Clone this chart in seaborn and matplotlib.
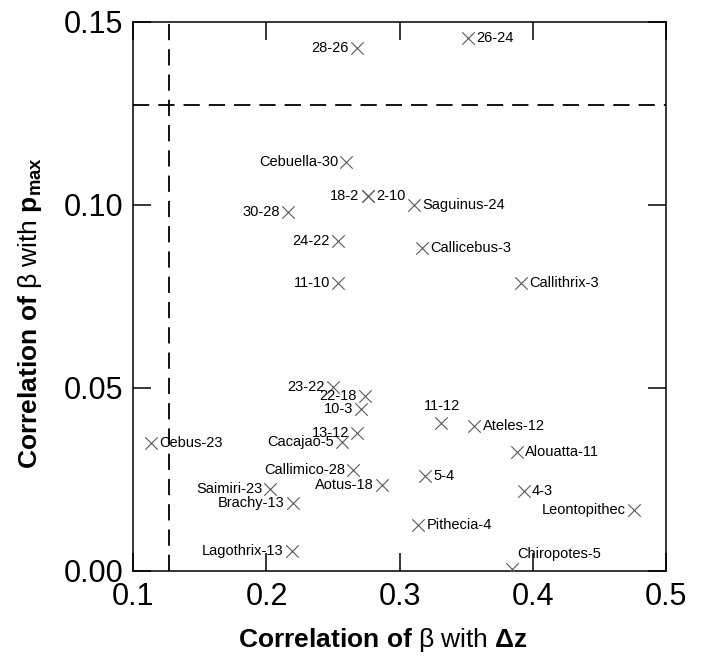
import matplotlib
matplotlib.use("Agg")
import matplotlib.pyplot as plt
import seaborn as sns
import pandas as pd

labels = ["28-26", "26-24", "Cebuella-30", "18-2", "2-10", "30-28", "Saguinus-24",
          "24-22", "Callicebus-3", "11-10", "Callithrix-3", "23-22", "22-18", "10-3",
          "11-12", "Ateles-12", "Cebus-23", "13-12", "Cacajao-5", "Alouatta-11",
          "Callimico-28", "5-4", "Saimiri-23", "Aotus-18", "4-3", "Brachy-13",
          "Leontopithec", "Pithecia-4", "Lagothrix-13", "Chiropotes-5"]
corr_dz = [0.268, 0.351, 0.260, 0.276, 0.276, 0.216, 0.311,
           0.254, 0.317, 0.254, 0.391, 0.250, 0.274, 0.271,
           0.331, 0.356, 0.113, 0.268, 0.257, 0.388,
           0.265, 0.319, 0.203, 0.287, 0.393, 0.220,
           0.476, 0.314, 0.219, 0.384]
corr_pmax = [0.1429, 0.1456, 0.1117, 0.1025, 0.1025, 0.0981, 0.1000,
             0.0902, 0.0883, 0.0787, 0.0787, 0.0503, 0.0478, 0.0443,
             0.0404, 0.0396, 0.0350, 0.0377, 0.0352, 0.0325,
             0.0276, 0.0260, 0.0224, 0.0235, 0.0219, 0.0186,
             0.0167, 0.0126, 0.0055, 0.0005]
threshold_dz = 0.1265
threshold_pmax = 0.1273

# label placement (style only)
place = {"26-24": "r", "2-10": "r", "Saguinus-24": "r", "Callicebus-3": "r",
         "Callithrix-3": "r", "11-12": "a", "Ateles-12": "r", "Cebus-23": "r",
         "Alouatta-11": "r", "5-4": "r", "4-3": "r", "Pithecia-4": "r",
         "Chiropotes-5": "ar"}

df = pd.DataFrame({"dz": corr_dz, "pmax": corr_pmax, "label": labels})

sns.set_style("ticks")
plt.rcParams["font.family"] = ["Liberation Sans", "DejaVu Sans"]
plt.rcParams["mathtext.fontset"] = "custom"
plt.rcParams["mathtext.rm"] = "Liberation Sans"
plt.rcParams["mathtext.bf"] = "Liberation Sans:bold"
plt.rcParams["mathtext.it"] = "Liberation Sans:italic"
plt.rcParams["text.color"] = "black"
plt.rcParams["axes.labelcolor"] = "black"
plt.rcParams["xtick.color"] = "black"
plt.rcParams["ytick.color"] = "black"

fig = plt.figure(figsize=(7.05, 6.56), dpi=100)
ax = fig.add_axes([0.189, 0.1296, 0.756, 0.8369])

sns.scatterplot(data=df, x="dz", y="pmax", marker="x", s=80, color="0.35",
                linewidth=0.8, ax=ax, legend=False, zorder=3)

ax.axvline(threshold_dz, color="black", lw=1.3, dashes=(9, 5), zorder=1)
ax.axhline(threshold_pmax, color="black", lw=1.3, dashes=(9, 5), zorder=1)

for x, y, t in zip(corr_dz, corr_pmax, labels):
    p = place.get(t, "l")
    if p == "l":
        ax.annotate(t, (x, y), xytext=(-6, 0), textcoords="offset points",
                    ha="right", va="center", fontsize=10.5, color="black")
    elif p == "r":
        ax.annotate(t, (x, y), xytext=(6, 0), textcoords="offset points",
                    ha="left", va="center", fontsize=10.5, color="black")
    elif p == "a":
        ax.annotate(t, (x, y), xytext=(1, 7), textcoords="offset points",
                    ha="center", va="bottom", fontsize=10.5, color="black")
    else:
        ax.annotate(t, (x, y), xytext=(4, 11), textcoords="offset points",
                    ha="left", va="center", fontsize=10.5, color="black")

ax.set_xlim(0.1, 0.5)
ax.set_ylim(0.0, 0.15)
ax.set_xticks([0.1, 0.2, 0.3, 0.4, 0.5])
ax.set_xticklabels(["0.1", "0.2", "0.3", "0.4", "0.5"])
ax.set_yticks([0.0, 0.05, 0.10, 0.15])
ax.set_yticklabels(["0.00", "0.05", "0.10", "0.15"])
ax.tick_params(direction="in", length=13, width=1.1, labelsize=22,
               top=True, right=True)
ax.tick_params(axis="x", pad=8)
ax.tick_params(axis="y", pad=7)
for sp in ax.spines.values():
    sp.set_visible(True)
    sp.set_linewidth(1.1)
    sp.set_color("black")

ax.set_xlabel(r"$\mathbf{Correlation\ of}\ \mathrm{\beta\ with}\ \mathbf{\Delta z}$",
              fontsize=19)
ax.set_ylabel(r"$\mathbf{Correlation\ of}\ \mathrm{\beta\ with}\ \mathbf{p_{max}}$",
              fontsize=19)
ax.xaxis.set_label_coords(0.468, -0.1)
ax.yaxis.set_label_coords(-0.167, 0.47)

fig.savefig("out.png", dpi=100)
